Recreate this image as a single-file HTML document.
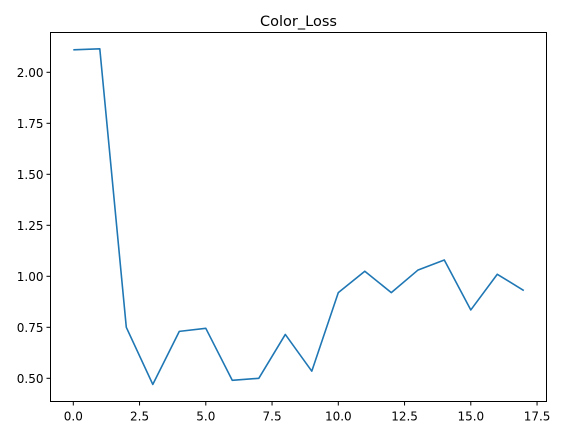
<!DOCTYPE html>
<html><head><meta charset="utf-8"><style>
html,body{margin:0;padding:0;background:#fff;}
svg{display:block;font-family:"DejaVu Sans","Liberation Sans",sans-serif;}
</style></head><body>
<svg id="chart" width="562" height="435"></svg>
<script>
const xs = [0,1,2,3,4,5,6,7,8,9,10,11,12,13,14,15,16,17];
const lossValues = [2.11,2.115,0.75,0.47,0.73,0.745,0.49,0.5,0.715,0.535,0.92,1.025,0.92,1.03,1.08,0.835,1.01,0.93];
const xTicks = [0,2.5,5,7.5,10,12.5,15,17.5];
const xTickLabels = ["0.0","2.5","5.0","7.5","10.0","12.5","15.0","17.5"];
const yTicks = [0.5,0.75,1.0,1.25,1.5,1.75,2.0];
const yTickLabels = ["0.50","0.75","1.00","1.25","1.50","1.75","2.00"];

const NS="http://www.w3.org/2000/svg";
const svg=document.getElementById('chart');
const L=50.5,R=546.5,T=32.5,B=401.5;
const sx=v=>73.3+v*26.5;
const sy=v=>378.3-(v-0.5)*204;
function el(tag,attrs){const e=document.createElementNS(NS,tag);for(const k in attrs)e.setAttribute(k,attrs[k]);svg.appendChild(e);return e;}

const title=el('text',{x:(L+R)/2,y:26,'text-anchor':'middle','font-size':'14.5',fill:'#000'});
title.textContent='Color_Loss';



xTicks.forEach((t,i)=>{
  const x=sx(t);
  const tk=el('line',{x1:x,x2:x,y1:B,y2:B+4,stroke:'#000','stroke-width':1});
  
  
  const lb=el('text',{x:x,y:B+19,'text-anchor':'middle','font-size':'12',fill:'#000'});
  lb.textContent=xTickLabels[i];
  
  
});
yTicks.forEach((t,i)=>{
  const y=sy(t);
  const tk=el('line',{x1:L-4,x2:L,y1:y,y2:y,stroke:'#000','stroke-width':1});
  
  
  const lb=el('text',{x:L-7,y:y+4.5,'text-anchor':'end','font-size':'12',fill:'#000'});
  lb.textContent=yTickLabels[i];
  
  
});

const line=el('polyline',{points:xs.map((x,i)=>sx(x)+','+sy(lossValues[i])).join(' '),fill:'none',stroke:'#1f77b4','stroke-width':1.6,'stroke-linejoin':'round'});



const frame=el('rect',{x:L,y:T,width:R-L,height:B-T,fill:'none',stroke:'#000','stroke-width':1});


</script>
</body></html>
